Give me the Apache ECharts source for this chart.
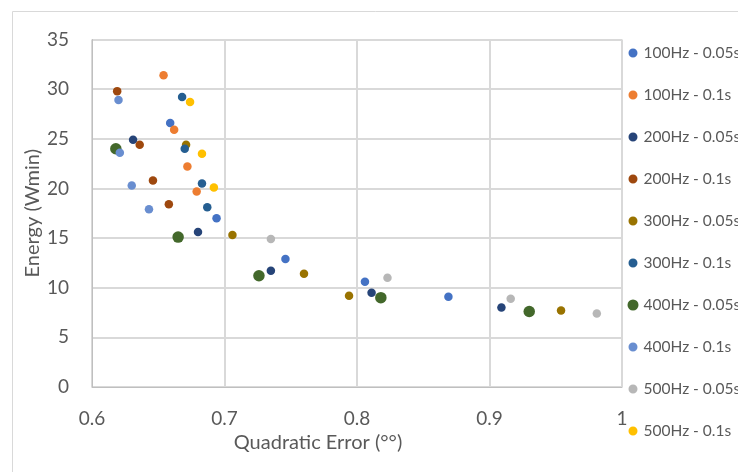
<!DOCTYPE html>
<html>
<head>
<meta charset="utf-8">
<script src="https://cdn.jsdelivr.net/npm/echarts@6/dist/echarts.min.js"></script>
<style>html,body{margin:0;padding:0;background:#fff;}#c{width:738px;height:472px;}</style>
</head>
<body>
<div id="c"></div>
<script>
const seriesNames = ['100Hz - 0.05s','100Hz - 0.1s','200Hz - 0.05s','200Hz - 0.1s','300Hz - 0.05s','300Hz - 0.1s','400Hz - 0.05s','400Hz - 0.1s','500Hz - 0.05s','500Hz - 0.1s'];
const s100_005 = [[0.659,26.6],[0.694,17.0],[0.746,12.9],[0.806,10.6],[0.869,9.1]];
const s100_01  = [[0.654,31.4],[0.662,25.9],[0.672,22.2],[0.679,19.7]];
const s200_005 = [[0.631,24.9],[0.680,15.6],[0.735,11.7],[0.811,9.5],[0.909,8.0]];
const s200_01  = [[0.619,29.8],[0.636,24.4],[0.646,20.8],[0.658,18.4]];
const s300_005 = [[0.671,24.4],[0.706,15.3],[0.760,11.4],[0.794,9.2],[0.954,7.7]];
const s300_01  = [[0.668,29.2],[0.670,24.0],[0.683,20.5],[0.687,18.1]];
const s400_005 = [[0.618,24.0],[0.665,15.1],[0.726,11.2],[0.818,9.0],[0.930,7.6]];
const s400_01  = [[0.620,28.9],[0.621,23.6],[0.630,20.3],[0.643,17.9]];
const s500_005 = [[0.735,14.9],[0.823,11.0],[0.916,8.9],[0.981,7.4]];
const s500_01  = [[0.674,28.7],[0.683,23.5],[0.692,20.1]];
const seriesData = [s100_005,s100_01,s200_005,s200_01,s300_005,s300_01,s400_005,s400_01,s500_005,s500_01];
const colors = ['#4472C4','#ED7D31','#264478','#9E480E','#997300','#255E91','#43682B','#698ED0','#B7B7B7','#FFC000'];
const markerSizes = [8.5,8.5,8.5,8.5,8.5,8.5,11.5,8.5,8.5,8.5];

const chart = echarts.init(document.getElementById('c'), null, {renderer:'canvas'});
const txt = '#595959';
const option = {
  animation: false,
  textStyle: {fontFamily: 'Lato'},
  color: colors,
  graphic: [{
    type: 'rect', left: 10, top: 9, silent: true, z: -10,
    shape: {width: 800, height: 520},
    style: {fill: 'none', stroke: '#D9D9D9', lineWidth: 1}
  }],
  grid: {left: 92, right: 116, top: 39.5, bottom: 85, containLabel: false},
  xAxis: {
    type: 'value', min: 0.6, max: 1, interval: 0.1,
    name: 'Quadratic Error (°°)', nameLocation: 'middle', nameGap: 46, nameMoveOverlap: false,
    nameTextStyle: {color: txt, fontSize: 20, padding: [0, 78, 0, 0]},
    axisLine: {show: true, lineStyle: {color: '#BFBFBF', width: 1}},
    axisTick: {show: false},
    axisLabel: {color: txt, fontSize: 19, margin: 22, formatter: v => String(+v.toFixed(1))},
    splitLine: {show: true, lineStyle: {color: '#D9D9D9', width: 2}}
  },
  yAxis: {
    type: 'value', min: 0, max: 35, interval: 5,
    name: 'Energy (Wmin)', nameLocation: 'middle', nameGap: 49, nameRotate: 90, nameMoveOverlap: false,
    nameTextStyle: {color: txt, fontSize: 20},
    axisLine: {show: true, lineStyle: {color: '#BFBFBF', width: 1}},
    axisTick: {show: false},
    axisLabel: {color: txt, fontSize: 19, margin: 23},
    splitLine: {show: true, lineStyle: {color: '#D9D9D9', width: 2}}
  },
  legend: {
    orient: 'vertical', left: 621.5, top: 40,
    itemWidth: 11, itemHeight: 11, itemGap: 26,
    textStyle: {color: txt, fontSize: 15.5, lineHeight: 16},
    data: seriesNames.map((n, i) => ({
      name: n, icon: 'circle',
      itemStyle: i === 6 ? {borderWidth: 0} : {borderColor: '#fff', borderWidth: 2}
    }))
  },
  series: seriesNames.map((n, i) => ({
    name: n, type: 'scatter', data: seriesData[i],
    symbol: 'circle', symbolSize: markerSizes[i],
    itemStyle: {color: colors[i], opacity: 1}
  }))
};
chart.setOption(option);
</script>
</body>
</html>
